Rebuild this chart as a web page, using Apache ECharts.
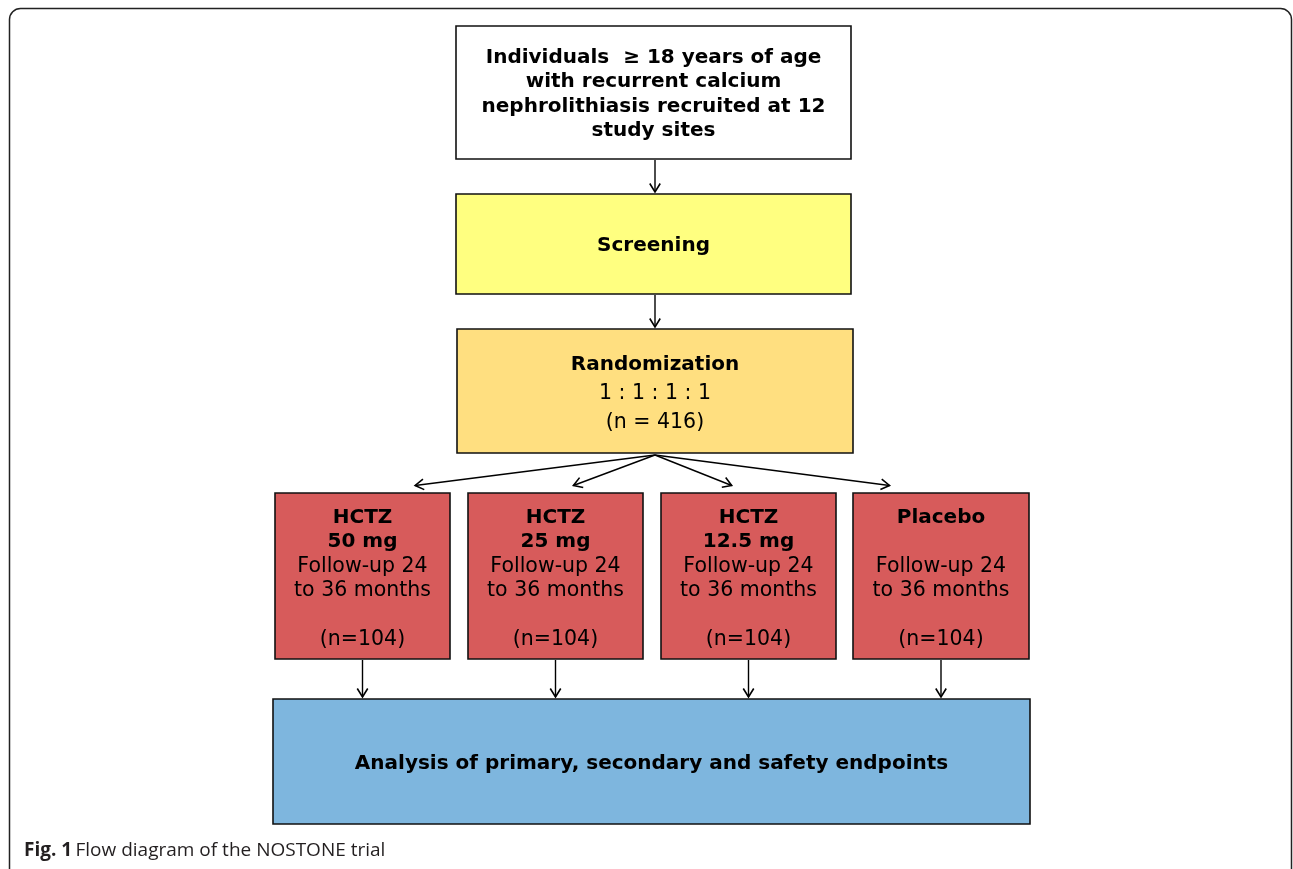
<!DOCTYPE html>
<html>
<head>
<meta charset="utf-8">
<script src="https://cdn.jsdelivr.net/npm/echarts@6/dist/echarts.min.js"></script>
<style>
  html, body { margin: 0; padding: 0; background: #fff; }
  #chart { width: 1293px; height: 869px; }
</style>
</head>
<body>
<div id="chart"></div>
<script>
// flow diagram content
const introLines = ["Individuals  \u2265 18 years of age", "with recurrent calcium", "nephrolithiasis recruited at 12", "study sites"];
const screeningLabel = "Screening";
const randomLabel = "Randomization";
const ratioLabel = "1 : 1 : 1 : 1";
const totalN = 416;
const armNames = ["HCTZ", "HCTZ", "HCTZ", "Placebo"];
const armDoses = ["50 mg", "25 mg", "12.5 mg", ""];
const followUpLines = ["Follow-up 24", "to 36 months"];
const armN = [104, 104, 104, 104];
const endpointLabel = "Analysis of primary, secondary and safety endpoints";
const captionBold = "Fig. 1";
const captionText = "Flow diagram of the NOSTONE trial";

// layout (pixel space of the 1293x869 canvas)
const W = 1293, H = 869;
const introBox = [456, 26, 851, 159];
const screenBox = [456, 194, 851, 294];
const randomBox = [457, 329, 853, 453];
const armBoxes = [[275, 493, 450, 659], [468, 493, 643, 659], [661, 493, 836, 659], [853, 493, 1029, 659]];
const endBox = [273, 699, 1030, 824];

const FONT = "DejaVu Sans";

const boxes = [
  { rect: introBox, fill: "#ffffff", top: 45.6, lh: 24.4,
    text: introLines.map(t => "{b|" + t + "}").join("\n") },
  { rect: screenBox, fill: "#ffff80", top: 233.6, lh: 24.4,
    text: "{b|" + screeningLabel + "}" },
  { rect: randomBox, fill: "#ffdf80", top: 350, lh: 29,
    text: "{b|" + randomLabel + "}\n{r|" + ratioLabel + "}\n{r|(n = " + totalN + ")}" },
];
armBoxes.forEach((r, i) => {
  boxes.push({
    rect: r, fill: "#d75b5b", top: 505.6, lh: 24.3,
    text: "{b|" + armNames[i] + "}\n{b|" + (armDoses[i] || " ") + "}\n" +
      followUpLines.map(t => "{r|" + t + "}").join("\n") + "\n{r| }\n{r|(n=" + armN[i] + ")}"
  });
});
boxes.push({ rect: endBox, fill: "#7eb6de", top: 751.6, lh: 24.4, text: "{b|" + endpointLabel + "}" });

const cx = r => (r[0] + r[2]) / 2;
const arrows = [
  [655, introBox[3] + 1, 655, screenBox[1] - 2],
  [655, screenBox[3] + 1, 655, randomBox[1] - 2]
];
armBoxes.forEach(r => {
  arrows.push([655, randomBox[3] + 2, 655 + (cx(r) - 655) * 0.82, r[1] - 7.5]);
});
armBoxes.forEach(r => {
  arrows.push([cx(r), r[3] + 1, cx(r), endBox[1] - 2]);
});

function rich(lh) {
  return {
    b: { fontFamily: FONT, fontWeight: "bold", fontSize: 20, lineHeight: lh, fill: "#000" },
    r: { fontFamily: FONT, fontSize: 20.5, lineHeight: lh, fill: "#000" }
  };
}

const chart = echarts.init(document.getElementById("chart"));
chart.setOption({
  animation: false,
  backgroundColor: "#fff",
  grid: { left: 0, right: 0, top: 0, bottom: 0 },
  xAxis: { type: "value", min: 0, max: W, show: false },
  yAxis: { type: "value", min: 0, max: H, inverse: true, show: false },
  graphic: [
    {
      type: "rect", shape: { x: 9.5, y: 8.5, width: 1282, height: 872, r: 11 },
      style: { fill: "none", stroke: "#222", lineWidth: 1.5 }, z: 1
    },
    {
      type: "text", x: 24, y: 851,
      style: {
        text: "{b|" + captionBold + "} {r|" + captionText + "}",
        verticalAlign: "middle",
        rich: {
          b: { fontFamily: "Open Sans", fontWeight: "bold", fontSize: 19, fill: "#231f20" },
          r: { fontFamily: "Open Sans", fontSize: 19, fill: "#231f20" }
        }
      }
    }
  ],
  series: [
    {
      type: "custom",
      name: "boxes",
      coordinateSystem: "cartesian2d",
      data: boxes.map(b => b.rect),
      encode: { x: [0, 2], y: [1, 3] },
      renderItem(params, api) {
        const b = boxes[params.dataIndex];
        const p0 = api.coord([b.rect[0], b.rect[1]]);
        const p1 = api.coord([b.rect[2], b.rect[3]]);
        const top = api.coord([0, b.top])[1];
        return {
          type: "group",
          children: [
            {
              type: "rect",
              shape: { x: p0[0], y: p0[1], width: p1[0] - p0[0], height: p1[1] - p0[1] },
              style: { fill: b.fill, stroke: "#111", lineWidth: 1.6 }
            },
            {
              type: "text",
              style: {
                x: (p0[0] + p1[0]) / 2, y: top, text: b.text,
                align: "center", verticalAlign: "top", rich: rich(b.lh)
              }
            }
          ]
        };
      }
    },
    {
      type: "custom",
      name: "arrows",
      coordinateSystem: "cartesian2d",
      data: arrows,
      encode: { x: [0, 2], y: [1, 3] },
      renderItem(params, api) {
        const a = arrows[params.dataIndex];
        const s = api.coord([a[0], a[1]]);
        const e = api.coord([a[2], a[3]]);
        const ang = Math.atan2(e[1] - s[1], e[0] - s[0]);
        const L = 10, phi = 0.55;
        const h1 = [e[0] - L * Math.cos(ang - phi), e[1] - L * Math.sin(ang - phi)];
        const h2 = [e[0] - L * Math.cos(ang + phi), e[1] - L * Math.sin(ang + phi)];
        return {
          type: "group",
          children: [
            { type: "line", shape: { x1: s[0], y1: s[1], x2: e[0], y2: e[1] },
              style: { stroke: "#000", lineWidth: 1.4 } },
            { type: "polyline", shape: { points: [h1, e, h2] },
              style: { stroke: "#000", lineWidth: 1.6, fill: "none" } }
          ]
        };
      }
    }
  ]
});
</script>
</body>
</html>
